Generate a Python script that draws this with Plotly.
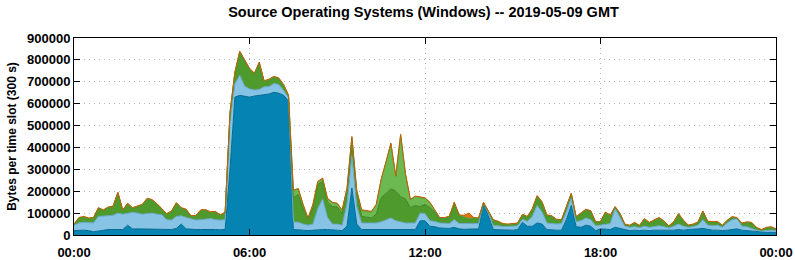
import pandas as pd
import plotly.graph_objects as go

# 10-minute samples, 2019-05-09 00:00 .. 2019-05-10 00:00 (145 points)
times = pd.date_range("2019-05-09 00:00", periods=145, freq="10min")

# values in thousands of bytes per time slot (stack order bottom -> top)
dark_blue_k = [
    20, 22, 22, 20, 15, 18, 22, 25, 25, 25, 25, 45, 28, 28, 28, 28, 28, 28, 27, 25, 25, 30, 50, 28, 25, 25, 25, 26, 25, 25, 24, 25,
    300, 630, 638, 633, 630, 635, 638, 640, 644, 652, 648, 638, 612,
    25, 22, 22, 20, 22, 25, 25, 25, 22, 22, 20, 40, 215, 50, 25, 25, 25, 25, 28, 28, 28, 25, 28, 25, 25, 25, 65,
    65, 40, 38, 32, 30, 30, 35, 28, 26, 26, 25, 28, 140, 88, 25, 24, 22, 22, 22, 25, 58, 40, 40, 55, 50, 25, 22, 22, 22, 70, 135, 38, 35, 45, 40, 20,
    28, 25, 25, 35, 30, 22, 20, 22, 20, 22, 20, 22, 22, 22, 20, 22, 25, 22, 25, 28, 28, 30, 25, 22, 22, 20, 22, 25, 28, 22, 20, 18, 15, 12, 12, 12, 12,
]
light_blue_k = [
    25, 33, 36, 35, 40, 67, 66, 63, 65, 75, 70, 55, 75, 72, 67, 70, 72, 67, 66, 45, 43, 55, 38, 52, 50, 43, 45, 46, 50, 45, 44, 45,
    220, 60, 92, 47, 38, 27, 27, 37, 34, 40, 40, 22, 16,
    35, 36, 28, 25, 28, 95, 140, 55, 28, 28, 25, 100, 145, 80, 30, 30, 27, 30, 32, 42, 50, 40, 32, 30, 30, 30, 35,
    33, 25, 24, 23, 22, 22, 35, 25, 27, 27, 25, 24, 5, 15, 17, 18, 16, 16, 18, 17, 14, 22, 45, 80, 55, 30, 30, 28, 30, 35, 35, 23, 30, 33, 30, 22,
    17, 25, 27, 85, 50, 18, 15, 16, 13, 18, 15, 18, 20, 16, 12, 18, 25, 18, 10, 10, 17, 40, 20, 20, 23, 15, 33, 45, 47, 18, 18, 12, 7, 6, 8, 10, 8,
]
dark_green_k = [
    2, 22, 24, 20, 22, 37, 24, 37, 39, 92, 17, 42, 19, 30, 42, 67, 59, 46, 25, 25, 39, 60, 34, 35, 10, 19, 42, 41, 28, 35, 21, 32,
    35, 50, 105, 115, 89, 73, 120, 23, 29, 28, 25, 23, 7,
    110, 127, 70, 25, 75, 110, 80, 70, 80, 78, 55, 55, 70, 60, 30, 25, 26, 40, 110, 120, 134, 135, 115, 110, 70, 80, 30,
    42, 60, 43, 21, 24, 30, 75, 35, 27, 19, 26, 22, 2, 2, 24, 18, 11, 9, 10, 10, 19, 20, 31, 41, 43, 33, 32, 19, 15, 20, 18, 20, 32, 36, 38, 16,
    14, 52, 36, 7, 16, 7, 7, 17, 8, 32, 20, 27, 35, 24, 7, 17, 45, 25, 8, 9, 12, 37, 15, 17, 14, 7, 10, 11, 2, 12, 19, 25, 10, 4, 12, 13, 5,
]
light_green_k = [
    1, 1, 1, 1, 1, 1, 1, 1, 1, 1, 1, 1, 1, 1, 1, 1, 1, 1, 1, 1, 1, 1, 1, 1, 1, 1, 1, 1, 1, 1, 1, 1,
    2, 2, 2, 2, 2, 2, 2, 2, 2, 2, 2, 2, 2,
    32, 25, 17, 5, 12, 12, 12, 15, 17, 14, 12, 17, 16, 12, 27, 29, 27, 42, 82, 142, 205, 67, 282, 112, 35, 40, 42,
    27, 22, 10, 2, 2, 2, 3, 2, 2, 3, 2, 2, 1, 1, 2, 1, 1, 1, 1, 1, 2, 1, 2, 2, 2, 2, 2, 1, 1, 2, 1, 1, 1, 2, 1, 1,
    1, 1, 1, 1, 1, 1, 1, 1, 1, 1, 1, 1, 1, 1, 1, 1, 1, 1, 1, 1, 1, 1, 1, 1, 1, 1, 1, 1, 1, 1, 1, 1, 1, 1, 1, 1, 1,
]
orange_k = [
    2, 2, 2, 2, 2, 2, 2, 2, 2, 2, 2, 2, 2, 2, 2, 2, 2, 2, 2, 2, 2, 2, 2, 2, 2, 2, 2, 2, 2, 2, 2, 2,
    3, 3, 3, 3, 3, 3, 3, 3, 3, 3, 3, 3, 3,
    3, 3, 3, 3, 3, 3, 3, 3, 3, 3, 3, 3, 4, 3, 3, 3, 3, 3, 3, 3, 3, 3, 3, 3, 3, 3, 3,
    3, 3, 3, 2, 2, 2, 2, 2, 8, 25, 2, 2, 2, 2, 2, 2, 2, 2, 2, 2, 2, 2, 2, 2, 2, 2, 2, 2, 2, 2, 2, 2, 2, 2, 2, 2,
    2, 2, 2, 2, 2, 2, 2, 2, 2, 2, 2, 2, 2, 2, 2, 2, 2, 2, 2, 2, 2, 2, 2, 2, 2, 2, 2, 2, 2, 2, 2, 2, 2, 2, 2, 2, 2,
]

series = [
    ("Series 1", dark_blue_k, "#0583b3", "#036b93"),
    ("Series 2", light_blue_k, "#87c3e4", "#6aa8cb"),
    ("Series 3", dark_green_k, "#4f9a2c", "#3e8322"),
    ("Series 4", light_green_k, "#6cb951", "#58a33f"),
    ("Series 5", orange_k, "#e07410", "#c45e00"),
]

fig = go.Figure()
for name, vals, fill, line in series:
    fig.add_trace(go.Scatter(
        x=times, y=[v * 1000 for v in vals], name=name,
        mode="lines", stackgroup="one",
        line=dict(color=line, width=1),
        fillcolor=fill, hoverinfo="x+y+name",
    ))

FAM = "Liberation Sans, Arial, sans-serif"
font_tick = dict(family=FAM, color="black", size=13, weight="bold")
font_ytitle = dict(family=FAM, color="black", size=12, weight="bold")

fig.update_layout(
    width=795, height=260,
    margin=dict(l=74, r=19, t=38, b=25, autoexpand=False),
    paper_bgcolor="white", plot_bgcolor="white",
    showlegend=False,
    font=font_tick,
    title=dict(
        text="Source Operating Systems (Windows) -- 2019-05-09 GMT",
        x=0.5327, xanchor="center", y=0.955, yanchor="middle",
        font=dict(family=FAM, size=14.5, color="black", weight="bold"),
    ),
    xaxis=dict(
        range=["2019-05-09 00:00", "2019-05-10 00:00"],
        dtick=6 * 3600 * 1000, tick0="2019-05-09 00:00", tickformat="%H:%M",
        ticks="inside", ticklen=6, tickcolor="black", ticklabelstandoff=5,
        showline=True, linecolor="black", linewidth=1, mirror="ticks",
        showgrid=True, gridcolor="#b4b4b4", griddash="1px,4px", gridwidth=1,
        zeroline=False, tickfont=font_tick, automargin=False,
    ),
    yaxis=dict(
        range=[0, 900000], dtick=100000, tickformat="d",
        ticks="inside", ticklen=6, tickcolor="black",
        showline=True, linecolor="black", linewidth=1, mirror="ticks",
        showgrid=True, gridcolor="#b4b4b4", griddash="1px,4px", gridwidth=1,
        zeroline=False, tickfont=font_tick, automargin=False,
        title=dict(text="Bytes per time slot (300 s)", font=font_ytitle, standoff=7),
    ),
)

fig.write_html("out.html")
